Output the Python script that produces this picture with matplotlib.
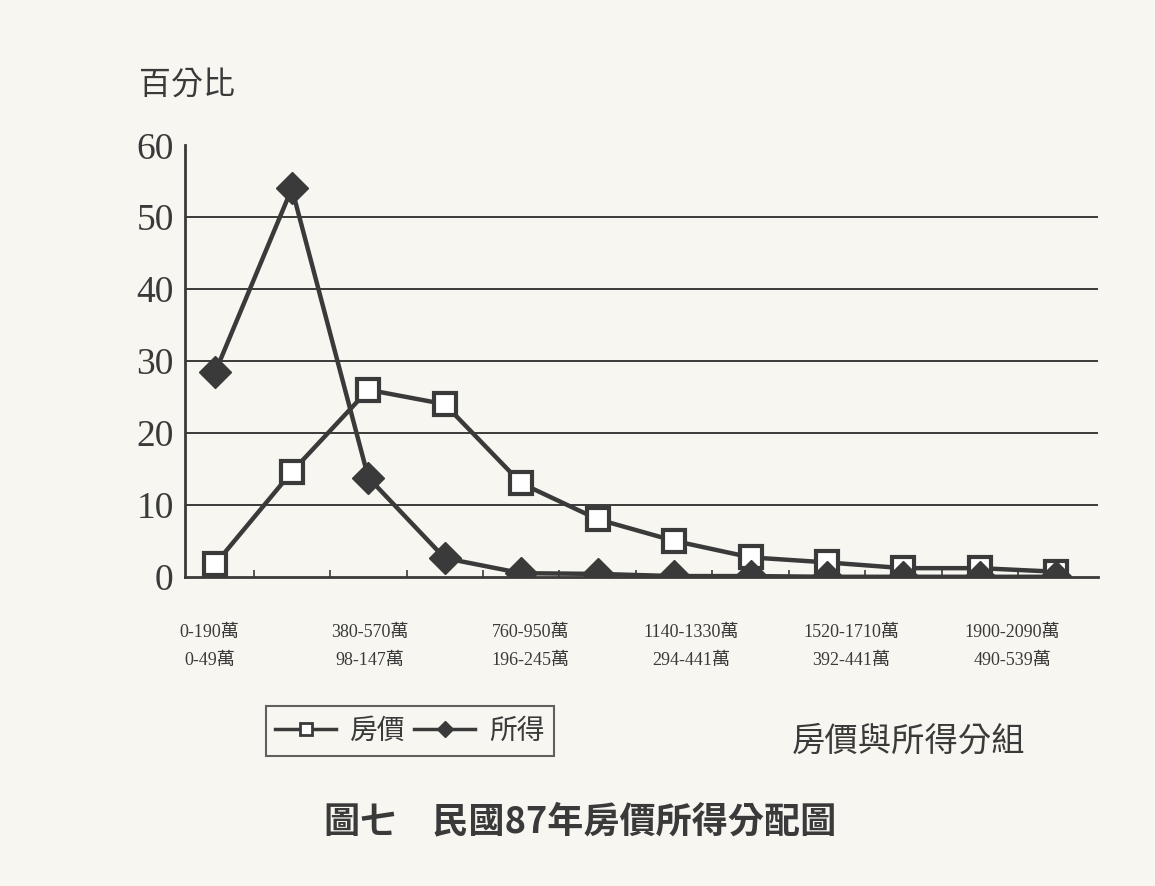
import matplotlib.pyplot as plt
from matplotlib.lines import Line2D

# 12 groups; 房價 (10k NTD) and 所得 (10k NTD) ranges
groups = list(range(12))
price_labels = ["0-190萬", "380-570萬", "760-950萬", "1140-1330萬", "1520-1710萬", "1900-2090萬"]
income_labels = ["0-49萬", "98-147萬", "196-245萬", "294-441萬", "392-441萬", "490-539萬"]
label_positions = [0, 2, 4, 6, 8, 10]

house_price = [1.8, 14.6, 26.0, 24.0, 13.0, 8.0, 5.0, 2.7, 2.0, 1.2, 1.2, 0.7]
income = [28.5, 54.0, 13.8, 2.6, 0.5, 0.4, 0.1, 0.1, 0.0, 0.0, 0.0, 0.0]

y_ticks = [0, 10, 20, 30, 40, 50, 60]
grid_levels = [10, 20, 30, 40, 50]

SERIF = ["Liberation Serif", "Noto Sans CJK TC"]
CJK = ["Noto Sans CJK TC", "DejaVu Sans"]
INK = "#3a3a3a"
BG = "#f7f6f1"

fig = plt.figure(figsize=(11.55, 8.86), dpi=100, facecolor=BG)
ax = fig.add_axes([0.160, 0.349, 0.791, 0.487])
ax.set_facecolor(BG)

for g in grid_levels:
    ax.axhline(g, color=INK, lw=1.4, zorder=1)

ax.plot(groups, house_price, color=INK, lw=3.2, marker="s", markersize=16,
        markerfacecolor="white", markeredgecolor=INK, markeredgewidth=3, zorder=3)
ax.plot(groups, income, color=INK, lw=3.2, marker="D", markersize=16,
        markerfacecolor=INK, markeredgecolor=INK, zorder=4)

ax.set_xlim(-0.4, 11.55)
ax.set_ylim(0, 60)

for side in ["top", "right"]:
    ax.spines[side].set_visible(False)
ax.spines["left"].set_color(INK)
ax.spines["bottom"].set_color(INK)
ax.spines["left"].set_linewidth(2)
ax.spines["bottom"].set_linewidth(2)

ax.set_yticks(y_ticks)
ax.set_yticklabels([str(v) for v in y_ticks], family=SERIF, fontsize=27, color=INK)
ax.tick_params(axis="y", length=0, pad=8)

ax.set_xticks([g + 0.5 for g in groups[:-1]])
ax.set_xticklabels([])
ax.tick_params(axis="x", direction="in", length=5, width=1.2, color=INK)

for k, (pos, p_lab, i_lab) in enumerate(zip(label_positions, price_labels, income_labels)):
    shift = 0.1 * k - 0.08
    ax.annotate(p_lab, xy=(pos + shift, 0), xycoords=("data", "axes fraction"),
                xytext=(0, -40), textcoords="offset points", ha="center", va="center",
                family=SERIF, fontsize=13, color=INK)
    ax.annotate(i_lab, xy=(pos + shift, 0), xycoords=("data", "axes fraction"),
                xytext=(0, -60), textcoords="offset points", ha="center", va="center",
                family=SERIF, fontsize=13, color=INK)

fig.text(0.120, 0.904, "百分比", family=CJK, fontsize=23, color=INK, va="center", ha="left")

handles = [
    Line2D([0], [0], color=INK, lw=2.5, marker="s", markersize=8,
           markerfacecolor="white", markeredgecolor=INK, markeredgewidth=2),
    Line2D([0], [0], color=INK, lw=2.5, marker="D", markersize=8,
           markerfacecolor=INK, markeredgecolor=INK),
]
leg = fig.legend(handles, ["房價", "所得"], loc="center", bbox_to_anchor=(0.355, 0.175),
                 ncol=2, frameon=True, fancybox=False, handlelength=2.2, handletextpad=0.5,
                 columnspacing=0.3, borderpad=0.35, prop={"family": CJK, "size": 20})
leg.get_frame().set_edgecolor(INK)
leg.get_frame().set_linewidth(1.5)
leg.get_frame().set_facecolor(BG)
for t in leg.get_texts():
    t.set_color(INK)

fig.text(0.787, 0.164, "房價與所得分組", family=CJK, fontsize=24, color=INK,
         ha="center", va="center")
fig.text(0.502, 0.072, "圖七　民國87年房價所得分配圖", family=CJK, fontsize=26,
         fontweight="bold", color=INK, ha="center", va="center")

fig.savefig("out.png", dpi=100, facecolor=BG)
